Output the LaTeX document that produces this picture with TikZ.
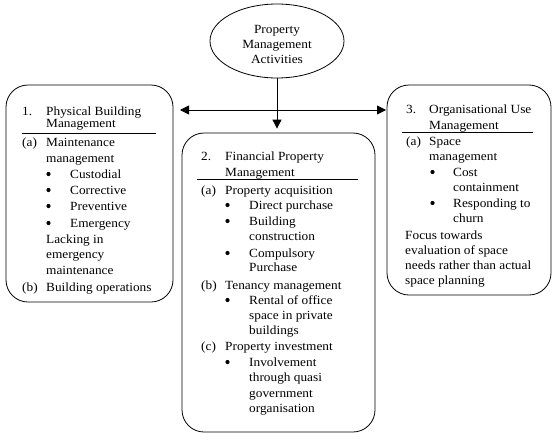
\documentclass[tikz,border=0pt]{standalone}
\usepackage{fontspec}
\setmainfont[FakeStretch=1.065]{Liberation Serif}
\usetikzlibrary{shapes.geometric,arrows.meta}
\begin{document}
\begin{tikzpicture}[x=1pt,y=-1pt,
  box/.style={draw, line width=0.8pt, rounded corners=22pt, inner sep=0pt},
  oval/.style={draw, ellipse, line width=0.8pt, inner sep=0pt},
  txt/.style={anchor=base west, inner sep=0pt, font=\fontsize{12.5}{14}\selectfont},
  ctxt/.style={anchor=base, inner sep=0pt, font=\fontsize{12.5}{14}\selectfont},
  bul/.style={circle, fill, inner sep=0pt, minimum size=4.2pt},
  conn/.style={line width=0.8pt, -{Triangle[length=9pt,width=9pt]}},
  rule/.style={line width=0.8pt}]
\useasboundingbox (0,0) rectangle (553,439);

% shapes
\node[oval, minimum width=134, minimum height=74] (top) at (277,41) {};
\node[box, minimum width=167, minimum height=217] (b1) at (89.5,193.5) {};
\node[box, minimum width=193, minimum height=299] (b2) at (278.5,282.5) {};
\node[box, minimum width=164, minimum height=210] (b3) at (469,190) {};

% connectors
\coordinate (hl) at (180,110);
\coordinate (hr) at (386,110);
\draw[line width=0.8pt, {Triangle[length=9pt,width=9pt]}-{Triangle[length=9pt,width=9pt]}] (hl) -- (hr);
\draw[conn, shorten >=4pt] (top.south) -- (top.south |- b2.north);

% header rules
\draw[rule] (22,133) -- (156,133);
\draw[rule] (197,179) -- (358,179);
\draw[rule] (402,132) -- (533,132);

% ellipse text
\foreach \y/\t [count=\i] in {33/Property, 48/Management, 63/Activities}
  \node[ctxt] (e\i) at (277,\y) {\t};

% box 1 text
\foreach \x/\y/\t [count=\i] in {
  22/115/1., 46/115/Physical Building, 46/127/Management,
  22/146/(a), 46/146/Maintenance, 46/162/management,
  70/178/Custodial, 70/194/Corrective, 70/210/Preventive, 70/227/Emergency,
  46/243/Lacking in, 46/258/emergency, 46/274/maintenance,
  22/291/(b), 46/291/Building operations}
  \node[txt] (p\i) at (\x,\y) {\t};
\foreach \y [count=\i] in {178,194,210,227}
  \node[bul] (pb\i) at (48.5,\y-4) {};

% box 2 text
\foreach \x/\y/\t [count=\i] in {
  201/160/2., 225/160/Financial Property, 225/176/Management,
  201/194/(a), 225/194/Property acquisition,
  249/209/Direct purchase, 249/225/Building, 249/240/construction,
  249/257/Compulsory, 249/271/Purchase,
  201/289/(b), 225/289/Tenancy management,
  249/304/Rental of office, 249/319/space in private, 249/334/buildings,
  201/350/(c), 225/350/Property investment,
  249/366/Involvement, 249/381/through quasi, 249/397/government, 249/412/organisation}
  \node[txt] (f\i) at (\x,\y) {\t};
\foreach \y [count=\i] in {209,225,257,304,366}
  \node[bul] (fb\i) at (227.5,\y-4) {};

% box 3 text
\foreach \x/\y/\t [count=\i] in {
  406/113/3., 429/113/Organisational Use, 429/129/Management,
  406/145/(a), 429/145/Space, 429/160/management,
  453/176/Cost, 453/191/containment, 453/207/Responding to, 453/222/churn,
  405/239/Focus towards, 405/254/evaluation of space,
  405/269/needs rather than actual, 405/284/space planning}
  \node[txt] (o\i) at (\x,\y) {\t};
\foreach \y [count=\i] in {176,207}
  \node[bul] (ob\i) at (432.5,\y-4) {};
\end{tikzpicture}
\end{document}
